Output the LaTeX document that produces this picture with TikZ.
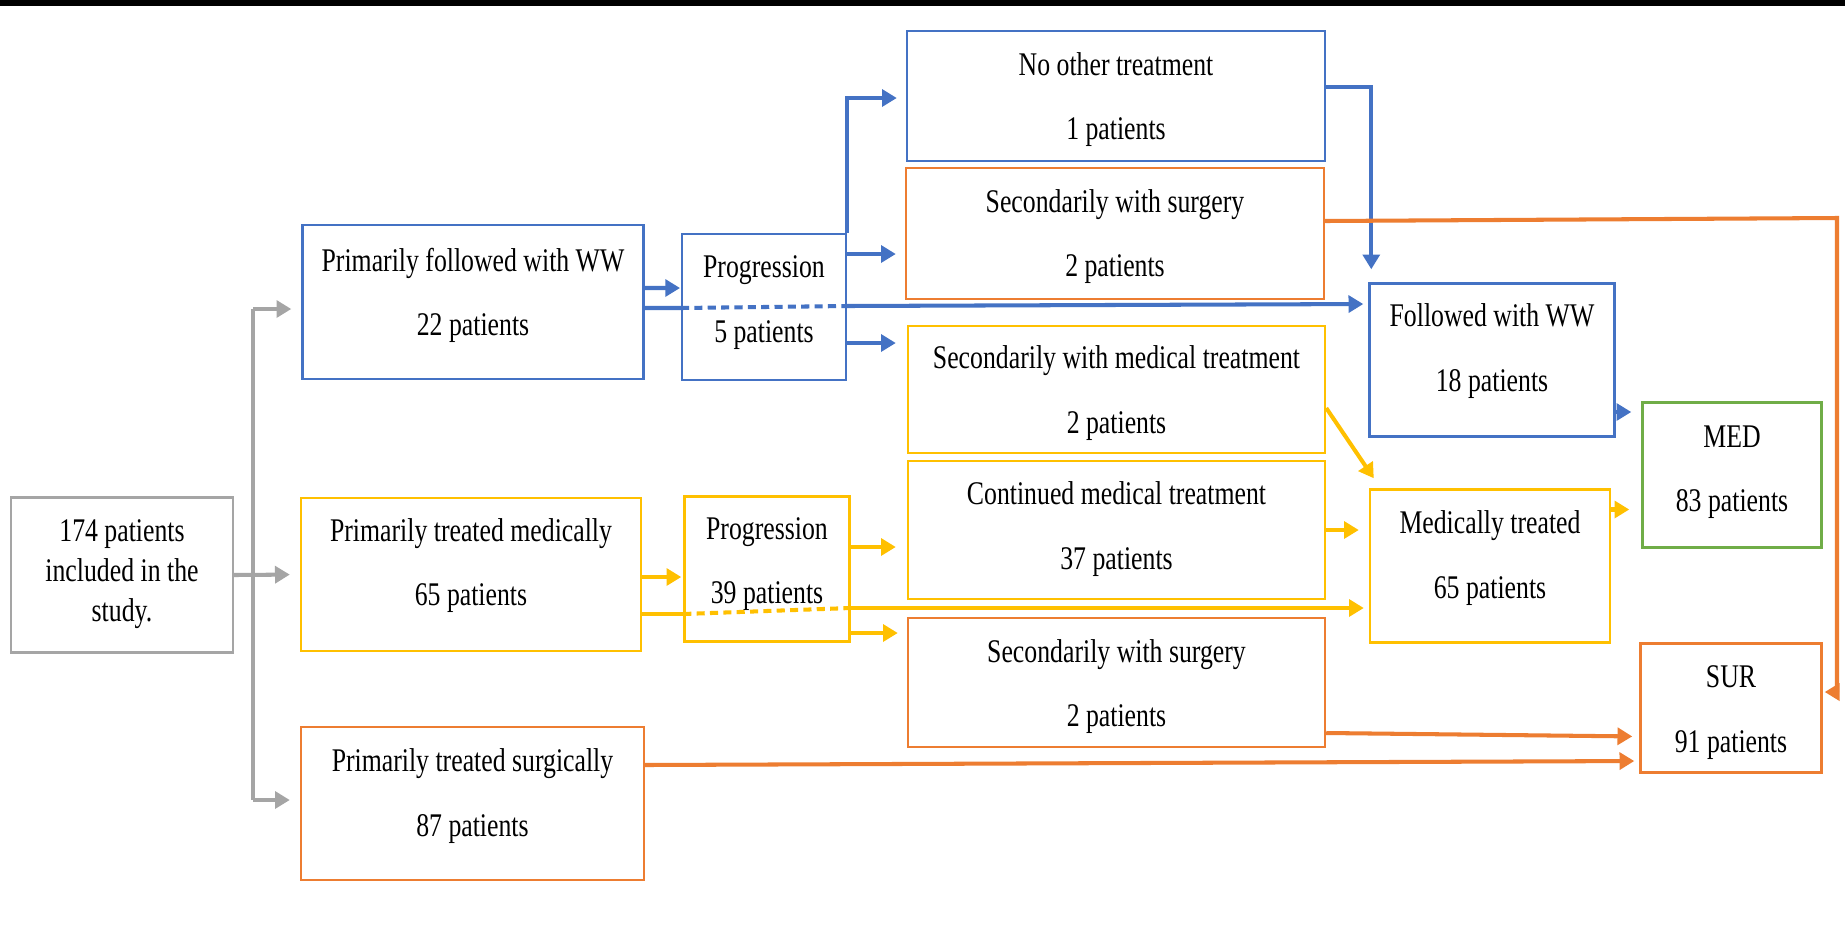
\documentclass[tikz,border=0pt]{standalone}
\usepackage{fontspec}
\setmainfont{Liberation Serif}[FakeStretch=0.78]
\usetikzlibrary{arrows.meta,calc}
\definecolor{cblue}{HTML}{4472C4}
\definecolor{corange}{HTML}{ED7D31}
\definecolor{cyellow}{HTML}{FFC000}
\definecolor{cgray}{HTML}{A5A5A5}
\definecolor{cgreen}{HTML}{70AD47}
\begin{document}
\begin{tikzpicture}[x=0.1mm,y=-0.1mm,
  box/.style={draw=#1, line width=0.7pt, inner sep=0pt, fill=white},
  txt/.style={align=center, inner sep=0pt, font=\fontsize{9.4pt}{18.35pt}\selectfont},
  conn/.style={draw=#1, line width=1.15pt, -{Triangle[length=4.2pt,width=4.8pt]}},
  plainline/.style={draw=#1, line width=1.15pt},
  dashline/.style={draw=#1, line width=1.15pt, dash pattern=on 2.3pt off 1.5pt}]
\useasboundingbox[fill=white] (0,0) rectangle (1845,925);
\fill[black] (0,0) rectangle (1845,6);

% boxes
\node[box=cgray, minimum width=22.2mm, minimum height=15.5mm] (start) at (122,575) {};
\node[box=cblue, minimum width=34.1mm, minimum height=15.4mm] (ww1) at (473,302) {};
\node[box=cyellow, minimum width=34.0mm, minimum height=15.3mm] (med1) at (471,574.5) {};
\node[box=corange, minimum width=34.3mm, minimum height=15.3mm] (sur1) at (472.5,803.5) {};
\node[box=cblue, minimum width=16.35mm, minimum height=14.6mm] (prog1) at (764,307) {};
\node[box=cyellow, minimum width=16.5mm, minimum height=14.5mm] (prog2) at (767,569) {};
\node[box=cblue, minimum width=41.8mm, minimum height=13.0mm] (noother) at (1116,96) {};
\node[box=corange, minimum width=41.8mm, minimum height=13.1mm] (sec1) at (1115,233.5) {};
\node[box=cyellow, minimum width=41.7mm, minimum height=12.7mm] (secmed) at (1116.5,389.5) {};
\node[box=cyellow, minimum width=41.7mm, minimum height=13.8mm] (cont) at (1116.5,530) {};
\node[box=corange, minimum width=41.7mm, minimum height=12.9mm] (sec2) at (1116.5,682.5) {};
\node[box=cblue, minimum width=24.5mm, minimum height=15.3mm] (fww) at (1492,360) {};
\node[box=cyellow, minimum width=24.0mm, minimum height=15.3mm] (medt) at (1490,566) {};
\node[box=cgreen, minimum width=17.9mm, minimum height=14.5mm] (med) at (1732,475) {};
\node[box=corange, minimum width=18.1mm, minimum height=12.9mm] (sur) at (1731,708) {};

% texts
\node[txt, font=\fontsize{9.4pt}{11.4pt}\selectfont] (startt) at (122,574) {174 patients\\included in the\\study.};
\node[txt] (ww1t) at (473,295.4) {Primarily followed with WW\\22 patients};
\node[txt] (med1t) at (471,565.5) {Primarily treated medically\\65 patients};
\node[txt] (sur1t) at (472.5,796) {Primarily treated surgically\\87 patients};
\node[txt] (prog1t) at (764,302.5) {Progression\\5 patients};
\node[txt] (prog2t) at (767,564) {Progression\\39 patients};
\node[txt] (noothert) at (1116,99.5) {No other treatment\\1 patients};
\node[txt] (sec1t) at (1115,236.6) {Secondarily with surgery\\2 patients};
\node[txt] (secmedt) at (1116.5,393) {Secondarily with medical treatment\\2 patients};
\node[txt] (contt) at (1116.5,529) {Continued medical treatment\\37 patients};
\node[txt] (sec2t) at (1116.5,686.7) {Secondarily with surgery\\2 patients};
\node[txt] (fwwt) at (1492,351) {Followed with WW\\18 patients};
\node[txt] (medtt) at (1490,558) {Medically treated\\65 patients};
\node[txt] (medt2) at (1732,472) {MED\\83 patients};
\node[txt] (surt) at (1731,712.5) {SUR\\91 patients};

% gray connectors
\coordinate (g1) at (253,309);
\coordinate (g3) at (253,800);
\draw[plainline=cgray] (g1) -- (g3);
\draw[conn=cgray, shorten >=1mm] (start.east) -- (med1.west);
\draw[conn=cgray, shorten >=1mm] (g1) -- (g1 -| ww1.west);
\draw[conn=cgray, shorten >=1mm] (g3) -- (g3 -| sur1.west);

% blue connectors
\draw[conn=cblue, shorten >=0.1mm] ([yshift=1.4mm]ww1.east) -- ([yshift=1.9mm]prog1.west);
\draw[plainline=cblue] ([yshift=-0.6mm]ww1.east) -- ([yshift=-0.1mm]prog1.west);
\draw[dashline=cblue] ([yshift=-0.1mm]prog1.west) -- ([yshift=0.1mm]prog1.east);
\draw[conn=cblue, shorten >=0.5mm] ([yshift=0.1mm]prog1.east) -- ([yshift=5.6mm]fww.west);
\draw[conn=cblue, shorten >=0.9mm] (prog1.north east) |- ([yshift=-0.2mm]noother.west);
\coordinate (p1a) at ([yshift=5.3mm]prog1.east);
\draw[conn=cblue, shorten >=0.9mm] (p1a) -- (p1a -| sec1.west);
\coordinate (p1b) at ([yshift=-3.6mm]prog1.east);
\draw[conn=cblue, shorten >=1.1mm] (p1b) -- (p1b -| secmed.west);
\draw[conn=cblue, shorten >=1.3mm] ([yshift=0.9mm]noother.east) -| ([xshift=0.3mm]fww.north west);
\coordinate (fa) at ([yshift=-5.2mm]fww.east);
\draw[conn=cblue, shorten >=1mm] (fa) -- (fa -| med.west);

% orange connectors
\coordinate (o1s) at ([yshift=1.25mm]sec1.east);
\coordinate (rt) at (1837,218);
\coordinate (o1e) at ([yshift=1.6mm]sur.east);
\draw[conn=corange, shorten >=0.2mm] (o1s) -- (rt) -- (rt |- o1e) -- (o1e);
\draw[conn=corange, shorten >=0.7mm] ([yshift=-5.05mm]sec2.east) -- ([yshift=-2.85mm]sur.west);
\draw[conn=corange, shorten >=0.5mm] ([yshift=3.85mm]sur1.east) -- ([yshift=-5.3mm]sur.west);

% yellow connectors
\draw[conn=cyellow, shorten >=0.2mm] ([yshift=-0.25mm]med1.east) -- ([yshift=-0.8mm]prog2.west);
\draw[plainline=cyellow] ([yshift=-3.95mm]med1.east) -- ([yshift=-4.5mm]prog2.west);
\draw[dashline=cyellow] ([yshift=-4.5mm]prog2.west) -- ([yshift=-3.9mm]prog2.east);
\draw[conn=cyellow, shorten >=0.5mm] ([yshift=-3.9mm]prog2.east) -- ([yshift=-4.2mm]medt.west);
\coordinate (p2a) at ([yshift=2.2mm]prog2.east);
\draw[conn=cyellow, shorten >=1.1mm] (p2a) -- (p2a -| cont.west);
\coordinate (p2b) at ([yshift=-6.4mm]prog2.east);
\draw[conn=cyellow, shorten >=0.9mm] (p2b) -- (p2b -| sec2.west);
\draw[conn=cyellow] ([yshift=-1.85mm]secmed.east) -- ([xshift=0.5mm,yshift=1mm]medt.north west);
\draw[conn=cyellow, shorten >=1mm] (cont.east) -- (cont.east -| medt.west);
\coordinate (ma) at ([yshift=5.65mm]medt.east);
\draw[conn=cyellow, shorten >=1.2mm] (ma) -- (ma -| med.west);
\end{tikzpicture}
\end{document}
